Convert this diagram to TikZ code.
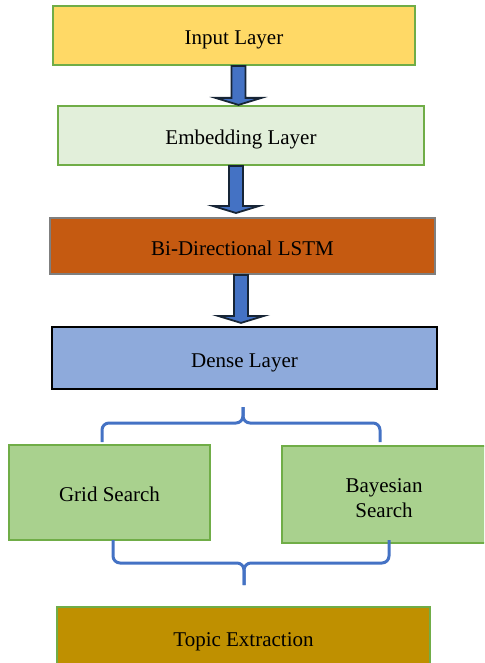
\documentclass[tikz,border=0pt]{standalone}
\usepackage{fontspec}
\setmainfont{Liberation Serif}
\usetikzlibrary{calc}

\definecolor{inputfill}{HTML}{FFD966}
\definecolor{embedfill}{HTML}{E2EFDA}
\definecolor{lstmfill}{HTML}{C55A11}
\definecolor{densefill}{HTML}{8EAADB}
\definecolor{searchfill}{HTML}{A9D18E}
\definecolor{topicfill}{HTML}{BF9000}
\definecolor{boxgreen}{HTML}{70AD47}
\definecolor{boxgray}{HTML}{7F7F7F}
\definecolor{arrowblue}{HTML}{4472C4}
\definecolor{arrowline}{HTML}{172536}

\tikzset{
  layerbase/.style={rectangle, inner sep=0pt, line width=2.2pt, align=center,
    font=\fontsize{21}{25}\selectfont, text=black},
  layer/.style={layerbase, text height=20pt, text depth=2pt},
  greenbox/.style={layer, draw=boxgreen},
  blockarrow/.style={draw=arrowline, fill=arrowblue, line width=1.8pt, line join=miter},
  bracket/.style={draw=arrowblue, line width=3pt, rounded corners=7pt}
}

% block arrow: #1 source node, #2 target node, #3 centre x, #4 gap above the target
\newcommand\blockarrow[4]{%
  \draw[blockarrow] let \p1=(#1.south), \p2=(#2.north) in
    ({#3pt-7pt},\y1) -- ({#3pt-7pt},{\y2+#4pt+7pt}) -- ({#3pt-23pt},{\y2+#4pt+7pt})
    -- (#3pt,{\y2+#4pt}) -- ({#3pt+23pt},{\y2+#4pt+7pt}) -- ({#3pt+7pt},{\y2+#4pt+7pt})
    -- ({#3pt+7pt},\y1) -- cycle;
}

\begin{document}
\begin{tikzpicture}[x=1pt,y=-1pt]
\useasboundingbox (0,0) rectangle (484,663);
\clip (0,0) rectangle (484,663);

% layer stack
\node[greenbox, fill=inputfill, minimum width=362, minimum height=59] (in) at (234,35.5) {Input Layer};
\node[greenbox, fill=embedfill, minimum width=366, minimum height=59] (emb) at (241,135.5) {Embedding Layer};
\node[layer, draw=boxgray, line width=2pt, fill=lstmfill, minimum width=385, minimum height=56] (lstm) at (242.5,246) {Bi-Directional LSTM};
\node[layer, draw=black, line width=2.2pt, fill=densefill, minimum width=385, minimum height=62] (dense) at (244.5,358) {Dense Layer};

% hyper-parameter search
\node[greenbox, fill=searchfill, minimum width=201, minimum height=95] (grid) at (109.5,492.5) {Grid Search};
\node[layerbase, draw=boxgreen, fill=searchfill, minimum width=204, minimum height=97] (bayes) at (384,494.5) {\rule{0pt}{21pt}Bayesian\\Search};

\node[greenbox, fill=topicfill, minimum width=373, minimum height=60] (topic) at (243.5,637) {Topic Extraction};

% arrows between the layers
\blockarrow{in}{emb}{238.5}{0}
\blockarrow{emb}{lstm}{236}{4}
\blockarrow{lstm}{dense}{241}{3}

% braces around the two search methods
\draw[bracket] (102,442) -- (102,423) -- (243,423) -- (243,407);
\draw[bracket] (380,442) -- (380,423) -- (243,423) -- (243,407);
\draw[bracket] (113,540) -- (113,563) -- (244,563) -- (244,585);
\draw[bracket] (389,540) -- (389,563) -- (244,563) -- (244,585);
\end{tikzpicture}
\end{document}
